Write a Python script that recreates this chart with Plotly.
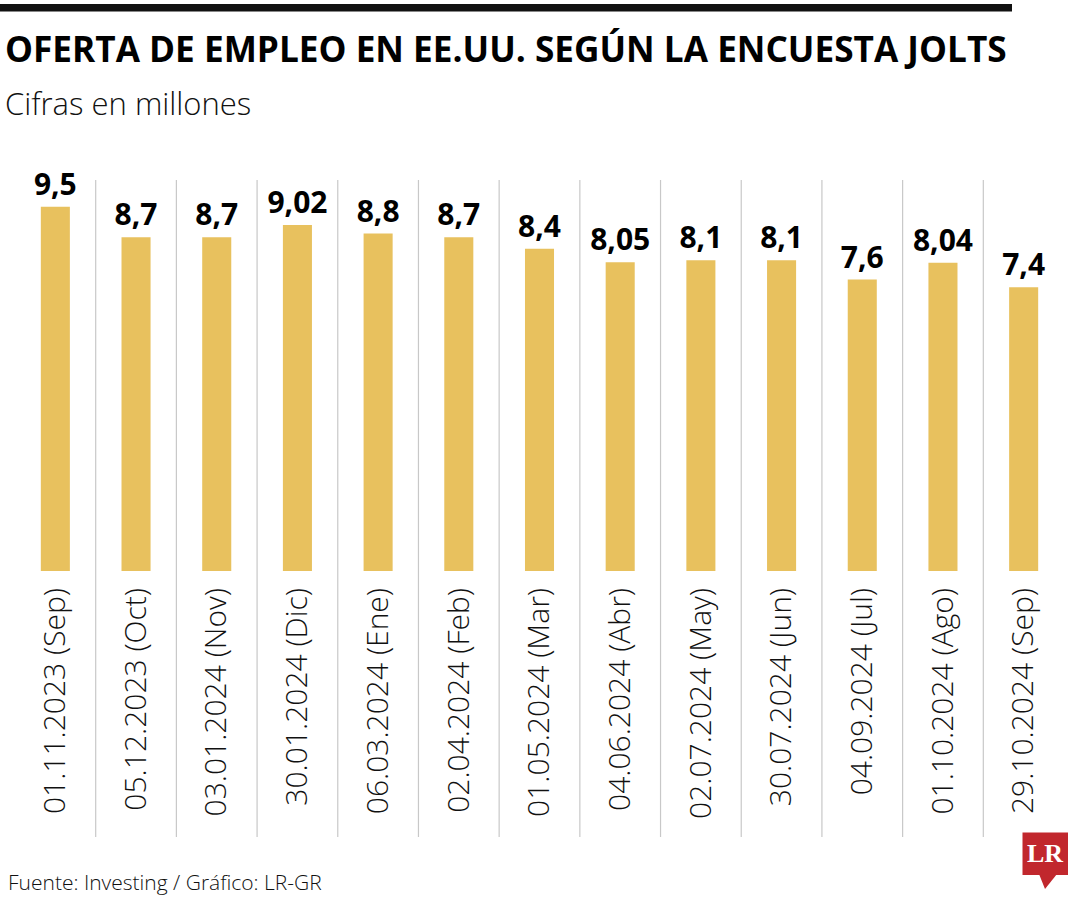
import plotly.graph_objects as go

categories = ["01.11.2023 (Sep)", "05.12.2023 (Oct)", "03.01.2024 (Nov)", "30.01.2024 (Dic)",
              "06.03.2024 (Ene)", "02.04.2024 (Feb)", "01.05.2024 (Mar)", "04.06.2024 (Abr)",
              "02.07.2024 (May)", "30.07.2024 (Jun)", "04.09.2024 (Jul)", "01.10.2024 (Ago)",
              "29.10.2024 (Sep)"]
values = [9.5, 8.7, 8.7, 9.02, 8.8, 8.7, 8.4, 8.05, 8.1, 8.1, 7.6, 8.04, 7.4]
labels = [f"{v:g}".replace(".", ",") for v in values]

W, H = 1080, 900
ML, MR, MT, MB = 15, 16, 180, 329
PW, PH = W - ML - MR, H - MT - MB

def px(x):
    return (x - ML) / PW

def py(y):
    return (H - MB - y) / PH

BAR = "#E8C15E"
FONT = "Open Sans"

fig = go.Figure(go.Bar(
    x=list(range(len(values))), y=values,
    marker=dict(color=BAR, line=dict(width=0)),
    width=0.36,
    text=labels, textposition="outside", cliponaxis=False, constraintext="none",
    textfont=dict(family=FONT, size=30, color="#000", weight=700),
    hoverinfo="skip",
))

shapes = []
# separators between categories
for i in range(len(values) - 1):
    shapes.append(dict(type="line", xref="x", yref="paper", x0=i + 0.5, x1=i + 0.5,
                       y0=py(837), y1=py(180), line=dict(color="#C8C8C8", width=1.2)))
# top black rule
shapes.append(dict(type="rect", xref="paper", yref="paper", x0=px(0), x1=px(1012),
                   y0=py(11.5), y1=py(4), fillcolor="#111", line=dict(width=0), layer="above"))
# LR logo
shapes.append(dict(type="rect", xref="paper", yref="paper", x0=px(1022.5), x1=px(1068),
                   y0=py(875), y1=py(832.5), fillcolor="#C1272D", line=dict(width=0)))
shapes.append(dict(type="path", xref="paper", yref="paper",
                   path=f"M {px(1039)} {py(874)} L {px(1057)} {py(874)} L {px(1045)} {py(889)} Z",
                   fillcolor="#C1272D", line=dict(width=0)))

annotations = [
    dict(text="OFERTA DE EMPLEO EN EE.UU. SEGÚN LA ENCUESTA JOLTS", xref="paper", yref="paper",
         x=px(3), y=py(48), xanchor="left", yanchor="middle", showarrow=False,
         font=dict(family=FONT, size=35.2, color="#000", weight=700)),
    dict(text="Cifras en millones", xref="paper", yref="paper",
         x=px(3), y=py(103), xanchor="left", yanchor="middle", showarrow=False,
         font=dict(family=FONT, size=31, color="#111", weight=300)),
    dict(text="Fuente: Investing / Gráfico: LR-GR", xref="paper", yref="paper",
         x=px(6), y=py(882), xanchor="left", yanchor="middle", showarrow=False,
         font=dict(family=FONT, size=21, color="#111", weight=300)),
    dict(text="<b>LR</b>", xref="paper", yref="paper",
         x=px(1045), y=py(853), xanchor="center", yanchor="middle", showarrow=False,
         font=dict(family="Liberation Serif", size=26, color="#fff")),
]

fig.update_layout(
    width=W, height=H,
    margin=dict(l=ML, r=MR, t=MT, b=MB),
    paper_bgcolor="#fff", plot_bgcolor="#fff",
    showlegend=False,
    shapes=shapes, annotations=annotations,
    xaxis=dict(tickmode="array", tickvals=list(range(len(values))), ticktext=categories,
               tickangle=-90, range=[-0.5, len(values) - 0.5], showgrid=False, zeroline=False,
               showline=False, ticks="", ticklabelstandoff=10,
               tickfont=dict(family=FONT, size=30, color="#111", weight=300), fixedrange=True),
    yaxis=dict(range=[0, PH / 38.35], visible=False, fixedrange=True),
)

fig.write_html("out.html", config={"displayModeBar": False},
               post_script="document.body.style.margin='0';")
